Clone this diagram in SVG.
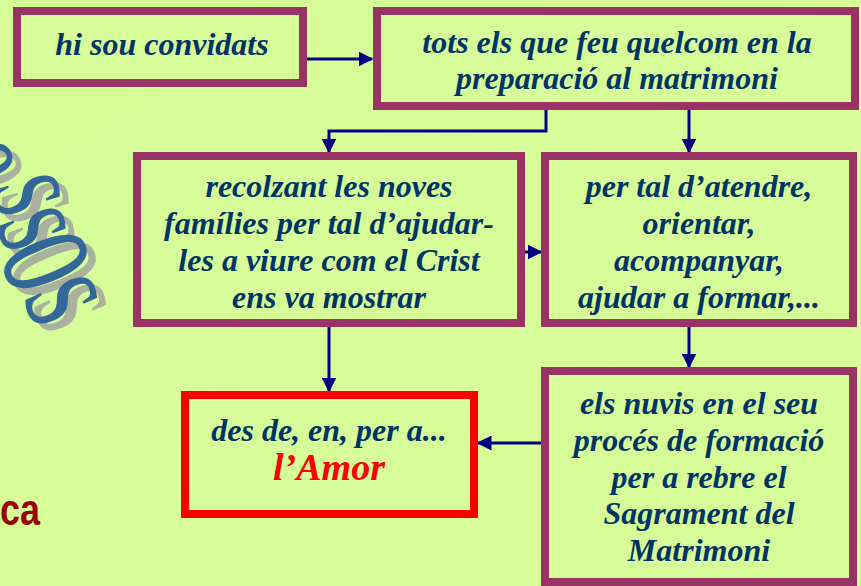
<svg xmlns="http://www.w3.org/2000/svg" width="861" height="586" viewBox="0 0 861 586">
<style>
.box{fill:#d6fd98;stroke:#993366;stroke-width:8}
.red{fill:#d6fd98;stroke:#ff0000;stroke-width:8}
.t{font-family:"Liberation Serif","Times New Roman",serif;font-weight:bold;font-style:italic;font-size:32px;fill:#003366;text-anchor:middle}
.c{stroke:#000080;stroke-width:3;fill:none}
.wa{font-family:"Liberation Serif",serif;fill:#336699;text-anchor:middle}
.ws{font-family:"Liberation Serif",serif;fill:#aab19f;text-anchor:middle}
</style>
<defs>
<marker id="ah" viewBox="0 0 10 10" refX="9" refY="5" markerWidth="5" markerHeight="5" orient="auto" markerUnits="strokeWidth">
<path d="M0,0 L10,5 L0,10 z" fill="#000080"/>
</marker>
<linearGradient id="bg" x1="0" y1="0" x2="1" y2="1">
<stop offset="0" stop-color="#d4fd96"/>
<stop offset="1" stop-color="#daff9c"/>
</linearGradient>
</defs>
<rect width="861" height="586" fill="url(#bg)"/>
<g id="wordart">
<text class="ws" font-size="140" y="31" transform="translate(-13,170) rotate(73) scale(0.65,1)">e</text>
<text class="wa" font-size="140" y="31" transform="translate(-22,163) rotate(73) scale(0.65,1)">e</text>
<text class="ws" font-size="140" y="31" transform="translate(34,202) rotate(73) scale(0.65,1)">s</text>
<text class="wa" font-size="140" y="31" transform="translate(25,195) rotate(73) scale(0.65,1)">s</text>
<text class="ws" font-size="140" y="31" transform="translate(40,236) rotate(70) scale(0.65,1)">s</text>
<text class="wa" font-size="140" y="31" transform="translate(31,229) rotate(70) scale(0.65,1)">s</text>
<text class="ws" font-size="180" y="40" transform="translate(53,269) rotate(68) scale(0.55,1)">o</text>
<text class="wa" font-size="180" y="40" transform="translate(44,262) rotate(68) scale(0.55,1)">o</text>
<text class="ws" font-size="150" y="33" transform="translate(69,308) rotate(66) scale(0.65,1)">s</text>
<text class="wa" font-size="150" y="33" transform="translate(60,301) rotate(66) scale(0.65,1)">s</text>
</g>
<text x="0" y="525" font-family="'Liberation Sans',Arial,sans-serif" font-weight="bold" font-size="44" fill="#990000" textLength="40" lengthAdjust="spacingAndGlyphs">ca</text>
<g id="connectors">
<path class="c" d="M306,59 H372" marker-end="url(#ah)"/>
<path class="c" d="M546,107 V131 H329 V152" marker-end="url(#ah)"/>
<path class="c" d="M689,107 V152" marker-end="url(#ah)"/>
<path class="c" d="M521,252 H541" marker-end="url(#ah)"/>
<path class="c" d="M329,327 V391" marker-end="url(#ah)"/>
<path class="c" d="M689,327 V367" marker-end="url(#ah)"/>
<path class="c" d="M545,443 H478" marker-end="url(#ah)"/>
</g>
<g id="n1">
<rect class="box" x="17" y="11" width="286" height="72"/>
<text class="t" x="162" y="55">hi sou convidats</text>
</g>
<g id="n2">
<rect class="box" x="377" y="11" width="478" height="95"/>
<text class="t" x="617" y="53">tots els que feu quelcom en la</text>
<text class="t" x="617" y="89">preparació al matrimoni</text>
</g>
<g id="n3">
<rect class="box" x="137" y="156" width="384" height="167"/>
<text class="t" x="329" y="197">recolzant les noves</text>
<text class="t" x="329" y="234">famílies per tal d’ajudar-</text>
<text class="t" x="329" y="271">les a viure com el Crist</text>
<text class="t" x="329" y="308">ens va mostrar</text>
</g>
<g id="n4">
<rect class="box" x="545" y="156" width="308" height="167"/>
<text class="t" x="699" y="197">per tal d’atendre,</text>
<text class="t" x="699" y="234">orientar,</text>
<text class="t" x="699" y="271">acompanyar,</text>
<text class="t" x="699" y="308">ajudar a formar,...</text>
</g>
<g id="n5">
<rect class="red" x="185" y="395" width="289" height="119"/>
<text class="t" x="329" y="441">des de, en, per a...</text>
<text class="t" x="329" y="480" style="fill:#ff0000;font-size:38px">l’Amor</text>
</g>
<g id="n6">
<rect class="box" x="545" y="371" width="308" height="211"/>
<text class="t" x="699" y="414">els nuvis en el seu</text>
<text class="t" x="699" y="451">procés de formació</text>
<text class="t" x="699" y="488">per a rebre el</text>
<text class="t" x="699" y="524">Sagrament del</text>
<text class="t" x="699" y="561">Matrimoni</text>
</g>
</svg>
